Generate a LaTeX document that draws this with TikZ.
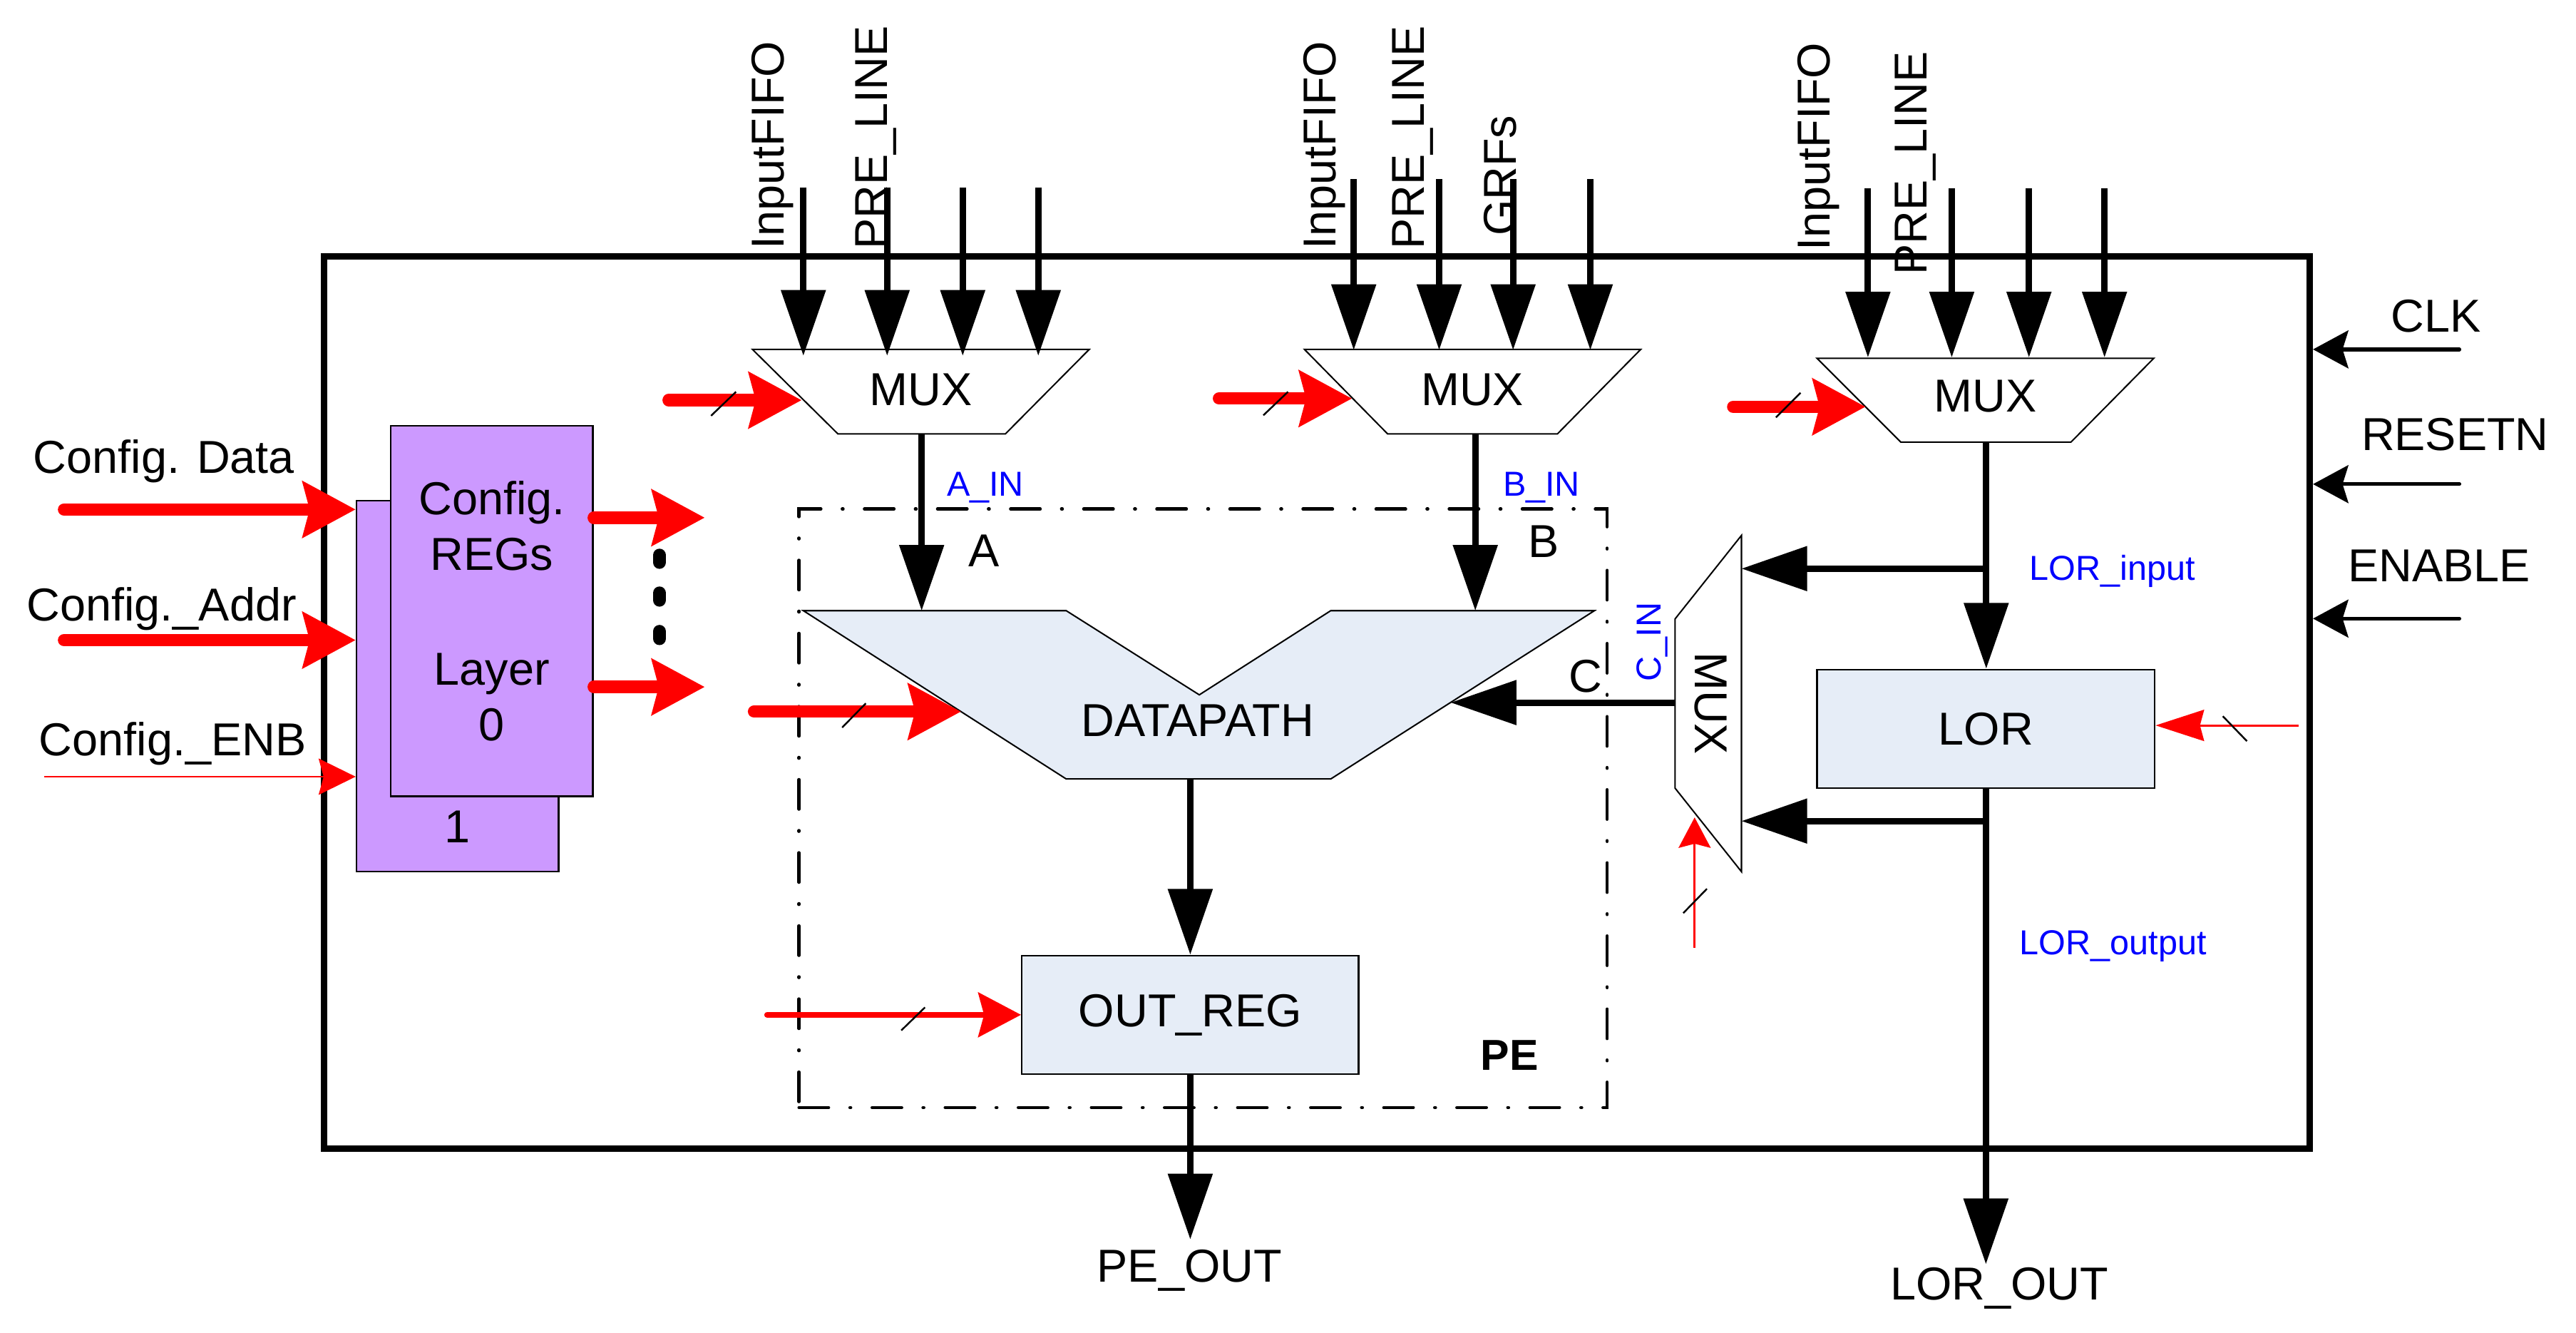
\documentclass[tikz,border=0pt]{standalone}
\usepackage{fontspec}
\setmainfont{Liberation Sans}
\usetikzlibrary{arrows.meta,positioning}
\definecolor{regviolet}{RGB}{204,153,255}
\definecolor{blockblue}{RGB}{230,237,247}
\definecolor{sigred}{RGB}{255,0,0}
\definecolor{netblue}{RGB}{0,0,255}

\begin{document}
\begin{tikzpicture}[
    x=0.02cm, y=-0.02cm,
    every node/.style={font=\fontsize{16}{19.3}\selectfont},
    frame/.style={
        rectangle,
        draw,
        line width=2.3pt
    },
    peframe/.style={
        rectangle,
        draw,
        line width=1.1pt,
        line cap=round,
        dash pattern=on 0.36cm off 0.26cm on 0.01cm off 0.26cm
    },
    muxline/.style={draw, line width=0.5pt},
    block/.style={
        rectangle,
        draw,
        line width=0.6pt,
        fill=blockblue,
        inner sep=0pt
    },
    cfgreg/.style={
        rectangle,
        draw,
        line width=0.6pt,
        fill=regviolet,
        inner sep=0pt,
        minimum width=2.46cm,
        minimum height=4.51cm,
        align=center
    },
    bus/.style={
        line width=2.2pt,
        -{Triangle[length=0.8cm, width=0.53cm]}
    },
    sig/.style={
        line width=1.3pt,
        line cap=round,
        -{Stealth[length=0.43cm, width=0.46cm, inset=0.07cm]}
    },
    redbus/.style={
        sigred,
        line width=4.3pt,
        line cap=round,
        -{Stealth[length=0.64cm, width=0.67cm, inset=0.08cm]}
    },
    redmid/.style={
        sigred,
        line width=2.1pt,
        line cap=round,
        -{Stealth[length=0.52cm, width=0.54cm, inset=0.07cm]}
    },
    redthin/.style={
        sigred,
        line width=0.7pt,
        -{Stealth[length=0.45cm, width=0.44cm, inset=0.06cm]}
    },
    slash/.style={line width=0.6pt},
    lbl/.style={anchor=base west, inner sep=0pt},
    vlabel/.style={lbl, rotate=90},
    netname/.style={netblue, font=\fontsize{12}{14}\selectfont}
]
\useasboundingbox (0,0) rectangle (1568,811);

% Rahmen
\node[frame, minimum width=24.18cm, minimum height=10.86cm] (cell) at (801.5,427.5) {};
\node[peframe, minimum width=9.84cm, minimum height=7.286cm] (peregion) at (732.3,491.85) {};
\node[lbl, font={\fontsize{15}{18}\selectfont\bfseries}] (pelbl) at (901,651) {PE};

% Konfigurationsregister
\node[cfgreg] (cfgb) at (278.5,417.5) {};
\node[cfgreg] (cfgf) at (299.4,371.8) {Config.\\REGs\\[0.72cm]Layer\\0};
\node (layerone) at (278.5,503) {1};

\coordinate (cfgdata) at (39,310);
\coordinate (cfgaddr) at (39,389.5);
\coordinate (cfgenb) at (27,472.6);
\draw[redbus] (cfgdata) -- (cfgdata -| cfgb.west);
\draw[redbus] (cfgaddr) -- (cfgaddr -| cfgb.west);
\draw[redthin] (cfgenb) -- (cfgenb -| cfgb.west);
\node[lbl] (datalbl) at (20,288) {Config. Data};
\node[lbl] (addrlbl) at (16,377.6) {Config.\_Addr};
\node[lbl] (enblbl) at (23.5,459.6) {Config.\_ENB};

\coordinate (cfgout1) at (429,315);
\coordinate (cfgout2) at (429,418);
\draw[redbus] (cfgf.east |- cfgout1) -- (cfgout1);
\draw[redbus] (cfgf.east |- cfgout2) -- (cfgout2);
\foreach \y in {340,363,386.4}
    \draw[line width=4.5pt, line cap=round] (401.4,\y-2.2) -- (401.4,\y+2.2);

% MUX fuer A, B und LOR
\draw[muxline] (458,212.6) -- (663,212.6) -- (612,264) -- (510,264) -- cycle;
\node (muxa) at (560.5,237) {MUX};
\draw[muxline] (794,212.6) -- (998.7,212.6) -- (948,264) -- (844.6,264) -- cycle;
\node (muxb) at (896.2,237) {MUX};
\draw[muxline] (1106,218) -- (1311,218) -- (1260.6,269) -- (1157,269) -- cycle;
\node (muxl) at (1208.4,241) {MUX};

\coordinate (muxatop) at (560.5,216.5);
\coordinate (muxbtop) at (896,213);
\coordinate (muxltop) at (1208.5,217.5);
\foreach \x [count=\i] in {489,540,586,632} {
    \coordinate (ina\i) at (\x,114);
    \draw[bus] (ina\i) -- (ina\i |- muxatop);
}
\foreach \x [count=\i] in {824,876,921,968} {
    \coordinate (inb\i) at (\x,109);
    \draw[bus] (inb\i) -- (inb\i |- muxbtop);
}
\foreach \x [count=\i] in {1137,1188,1235,1281} {
    \coordinate (inl\i) at (\x,114.6);
    \draw[bus] (inl\i) -- (inl\i |- muxltop);
}

\node[vlabel] (fifoa) at (477,152) {InputFIFO};
\node[vlabel] (linea) at (540,152) {PRE\_LINE};
\node[vlabel] (fifob) at (813,152) {InputFIFO};
\node[vlabel] (lineb) at (867,152) {PRE\_LINE};
\node[vlabel] (grfb) at (923,144) {GRFs};
\node[vlabel] (fifol) at (1113.7,152.8) {InputFIFO};
\node[vlabel] (linel) at (1173,167.7) {PRE\_LINE};

% Steuereingaenge der MUX
\coordinate (sela) at (407,243.5);
\coordinate (muxasel) at (488,243.5);
\coordinate (selb) at (742,242.5);
\coordinate (muxbsel) at (823,242.5);
\coordinate (sell) at (1055,247.5);
\coordinate (muxlsel) at (1135.6,247.5);
\draw[redbus] (sela) -- (muxasel);
\draw[redbus] (selb) -- (muxbsel);
\draw[redbus] (sell) -- (muxlsel);
\draw[slash] (432.8,253) -- (448,238.4);
\draw[slash] (769,252.7) -- (784,238.4);
\draw[slash] (1081,254) -- (1096,239);

% Datenpfad
\draw[muxline, fill=blockblue] (489,371.6) -- (649,371.6) -- (730,422.8) -- (810,371.6)
    -- (970.5,371.6) -- (810,474) -- (649,474) -- cycle;
\node (dp) at (729,438.6) {DATAPATH};
\coordinate (dptop) at (729,371.6);
\coordinate (dpbot) at (724.5,474);
\coordinate (dpright) at (883,427.5);
\coordinate (dpleft) at (585,433);

\coordinate (muxabot) at (561,264);
\coordinate (muxbbot) at (898,264);
\draw[bus] (muxabot) -- (muxabot |- dptop);
\draw[bus] (muxbbot) -- (muxbbot |- dptop);
\node[lbl, netname] (ainlbl) at (576,302) {A\_IN};
\node[lbl, netname] (binlbl) at (914.5,302) {B\_IN};
\node[anchor=base, inner sep=0pt] (alabel) at (599,344.6) {A};
\node[anchor=base, inner sep=0pt] (blabel) at (939.5,339) {B};

\coordinate (dpctl) at (459,433);
\draw[redbus] (dpctl) -- (dpleft);
\draw[slash] (512.6,442.7) -- (527,428);

% Ausgangsregister
\node[block, minimum width=4.1cm, minimum height=1.442cm] (outreg) at (724.5,617.5) {OUT\_REG};
\draw[bus] (dpbot) -- (dpbot |- outreg.north);
\coordinate (outctl) at (467,617.5);
\draw[redmid] (outctl) -- (outctl -| outreg.west);
\draw[slash] (548.6,627) -- (563,613);
\node[anchor=base] (peout) at (724,780) {PE\_OUT};
\draw[bus] (outreg.south) -- (outreg.south |- peout.north);

% LOR und C-MUX
\node[block, minimum width=4.112cm, minimum height=1.444cm] (lor) at (1208.8,443.5) {LOR};
\coordinate (muxlbot) at (1209,269);
\draw[bus] (muxlbot) -- (muxlbot |- lor.north);
\node[anchor=base, inner sep=1pt] (lorout) at (1217,791) {LOR\_OUT};
\draw[bus] (lor.south) -- (lor.south |- lorout.north);
\node[lbl, netname] (lorinlbl) at (1235,353) {LOR\_input};
\node[lbl, netname] (loroutlbl) at (1229,581) {LOR\_output};

\draw[muxline] (1060,325.8) -- (1060,530.4) -- (1019.6,479.6) -- (1019.6,376.6) -- cycle;
\node[rotate=-90] (muxc) at (1041.5,428) {MUX};
\coordinate (muxcright) at (1060,428);
\coordinate (muxcleft) at (1019.6,427.5);
\coordinate (tapin) at (1209,346);
\coordinate (tapout) at (1209,499.6);
\draw[bus] (tapin) -- (tapin -| muxcright);
\draw[bus] (tapout) -- (tapout -| muxcright);
\draw[bus] (muxcleft) -- (dpright);
\node[anchor=base, inner sep=0pt] (clabel) at (965,421) {C};
\node[vlabel, netname] (cinlbl) at (1011,415) {C\_IN};

\coordinate (muxcctl) at (1031.5,576.6);
\coordinate (muxcsel) at (1031.5,497.4);
\draw[redthin, -{Stealth[length=0.37cm, width=0.39cm, inset=0.05cm]}] (muxcctl) -- (muxcsel);
\draw[slash] (1024.6,555.6) -- (1039,540.8);

\coordinate (lorctl) at (1399,441.4);
\draw[redthin, -{Stealth[length=0.59cm, width=0.38cm, inset=0.05cm]}] (lorctl) -- (lorctl -| lor.east);
\draw[slash] (1353,435.8) -- (1367.7,451);

% Takt und Steuersignale
\coordinate (clk) at (1497,212.6);
\coordinate (resetn) at (1497,294.6);
\coordinate (enable) at (1497,376.4);
\draw[sig] (clk) -- (clk -| cell.east);
\draw[sig] (resetn) -- (resetn -| cell.east);
\draw[sig] (enable) -- (enable -| cell.east);
\node[lbl] (clklbl) at (1455,202) {CLK};
\node[lbl] (resetlbl) at (1437,274) {RESETN};
\node[lbl] (enablelbl) at (1429,353.7) {ENABLE};

\end{tikzpicture}
\end{document}
